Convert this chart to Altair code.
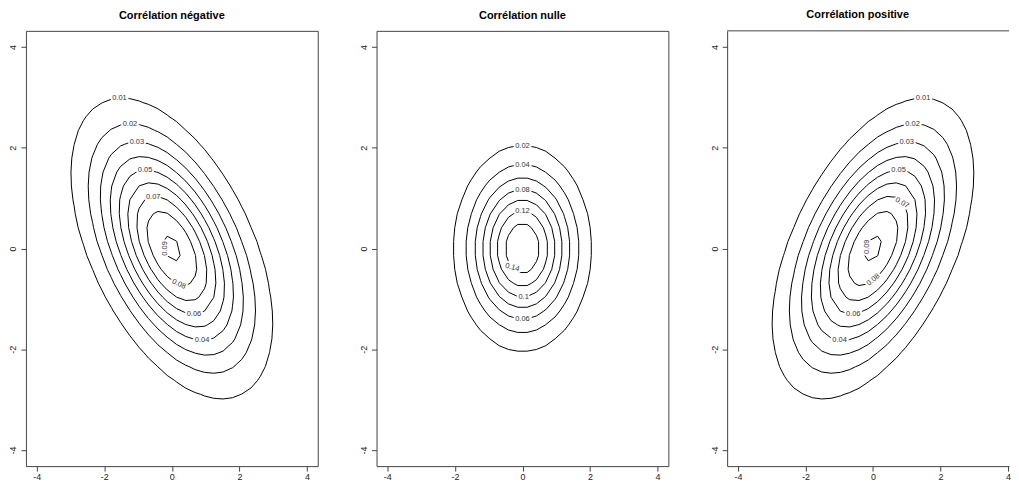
import altair as alt
import numpy as np
import pandas as pd

# ---------------- values ----------------
panel_titles = ["Corrélation négative", "Corrélation nulle", "Corrélation positive"]
# bivariate normal parameters of each panel (variance x, variance y, covariance)
panel_var_x = [2.0, 1.0, 2.0]
panel_var_y = [2.0, 1.0, 2.0]
panel_cov_xy = [-1.0, 0.0, 1.0]
# contour levels drawn in each panel
panel_levels = [
    [0.01, 0.02, 0.03, 0.04, 0.05, 0.06, 0.07, 0.08, 0.09],
    [0.02, 0.04, 0.06, 0.08, 0.10, 0.12, 0.14],
    [0.01, 0.02, 0.03, 0.04, 0.05, 0.06, 0.07, 0.08, 0.09],
]
# evaluation grid of the density (as in seq(-4, 4, length = 30))
grid_min, grid_max, grid_n = -4.0, 4.0, 30
axis_ticks = [-4, -2, 0, 2, 4]
axis_domain = [-4.32, 4.32]
# the right-hand panel is cut by the picture's right edge
last_panel_xmax = 4.03

# contour labels (panel index, text, approximate x, approximate y, angle)
label_panel = [0, 0, 0, 0, 0, 0, 0, 0, 0,
               1, 1, 1, 1, 1, 1, 1,
               2, 2, 2, 2, 2, 2, 2, 2, 2]
label_text = ["0.01", "0.02", "0.03", "0.05", "0.07", "0.09", "0.08", "0.06", "0.04",
              "0.02", "0.04", "0.08", "0.12", "0.14", "0.1", "0.06",
              "0.01", "0.02", "0.03", "0.05", "0.07", "0.09", "0.08", "0.06", "0.04"]
label_level = [0.01, 0.02, 0.03, 0.05, 0.07, 0.09, 0.08, 0.06, 0.04,
               0.02, 0.04, 0.08, 0.12, 0.14, 0.10, 0.06,
               0.01, 0.02, 0.03, 0.05, 0.07, 0.09, 0.08, 0.06, 0.04]
label_x = [-1.53, -1.24, -1.03, -0.80, -0.53, -0.08, 0.21, 0.65, 0.91,
           0.0, 0.0, 0.0, 0.0, -0.19, 0.04, 0.0,
           1.49, 1.19, 1.01, 0.76, 0.69, -0.05, 0.0, -0.60, -0.99]
label_y = [2.95, 2.43, 2.04, 1.50, 0.93, 0.02, -0.66, -1.26, -1.79,
           2.0, 1.61, 1.17, 0.75, -0.33, -0.96, -1.40,
           2.93, 2.39, 2.06, 1.50, 0.83, 0.02, -0.62, -1.26, -1.79]
label_angle = [0, 0, 0, 0, 0, 270, 25, 0, 0,
               0, 0, 0, 0, 15, 0, 0,
               0, 0, 0, 0, 30, 270, 320, 0, 0]

FONT = "Liberation Sans"
FRAME = "#444444"


def density_grid(vx, vy, cxy, g):
    X, Y = np.meshgrid(g, g)
    det = vx * vy - cxy ** 2
    q = (vy * X ** 2 - 2 * cxy * X * Y + vx * Y ** 2) / det
    return np.exp(-q / 2) / (2 * np.pi * np.sqrt(det))


def contour_segments(g, Z, level):
    segs = []
    n = len(g)
    for j in range(n - 1):
        for i in range(n - 1):
            v = [Z[j, i], Z[j, i + 1], Z[j + 1, i + 1], Z[j + 1, i]]
            p = [(g[i], g[j]), (g[i + 1], g[j]), (g[i + 1], g[j + 1]), (g[i], g[j + 1])]
            ins = [vv >= level for vv in v]
            pts = []
            for k in range(4):
                a, b = k, (k + 1) % 4
                if ins[a] != ins[b]:
                    t = (level - v[a]) / (v[b] - v[a])
                    pts.append((p[a][0] + t * (p[b][0] - p[a][0]),
                                p[a][1] + t * (p[b][1] - p[a][1])))
            if len(pts) == 2:
                segs.append((pts[0], pts[1]))
            elif len(pts) == 4:
                segs.append((pts[0], pts[1]))
                segs.append((pts[2], pts[3]))
    return segs


g = np.linspace(grid_min, grid_max, grid_n)
W, H = 293, 437
px_per_unit_x = W / (axis_domain[1] - axis_domain[0])
px_per_unit_y = H / (axis_domain[1] - axis_domain[0])

panels = []
for pi in range(3):
    last = pi == 2
    xdom = [axis_domain[0], last_panel_xmax] if last else axis_domain
    width = int(round((xdom[1] - xdom[0]) * px_per_unit_x))
    xscale = alt.Scale(domain=xdom, nice=False, zero=False)
    yscale = alt.Scale(domain=axis_domain, nice=False, zero=False)
    xaxis = alt.Axis(values=axis_ticks, labelExpr="'' + datum.value", title=None,
                     tickSize=5, labelPadding=1, grid=False, domain=last,
                     domainColor=FRAME)
    yaxis = alt.Axis(values=axis_ticks, labelExpr="'' + datum.value", title=None,
                     tickSize=5, labelPadding=3, labelAngle=270, grid=False,
                     domain=last, domainColor=FRAME,
                     labelAlign="center", labelBaseline="bottom")

    Z = density_grid(panel_var_x[pi], panel_var_y[pi], panel_cov_xy[pi], g)
    rows = []
    seg_by_level = {}
    for lev in panel_levels[pi]:
        segs = contour_segments(g, Z, lev)
        seg_by_level[round(lev, 3)] = segs
        for (a, b) in segs:
            rows.append({"x": a[0], "y": a[1], "x2": b[0], "y2": b[1], "level": lev})
    seg_df = pd.DataFrame(rows)

    # labels: snap the read position onto the contour line of its level
    lab_rows = []
    for k in range(len(label_text)):
        if label_panel[k] != pi:
            continue
        segs = seg_by_level[round(label_level[k], 3)]
        best, bd = (label_x[k], label_y[k]), 1e9
        for (a, b) in segs:
            for t in np.linspace(0, 1, 9):
                qx = a[0] + t * (b[0] - a[0])
                qy = a[1] + t * (b[1] - a[1])
                d = ((qx - label_x[k]) * px_per_unit_x) ** 2 + \
                    ((qy - label_y[k]) * px_per_unit_y) ** 2
                if d < bd:
                    bd, best = d, (qx, qy)
        lab_rows.append({"x": best[0], "y": best[1], "text": label_text[k],
                         "angle": label_angle[k]})
    lab_df = pd.DataFrame(lab_rows)

    lines = alt.Chart(seg_df).mark_rule(color="#000000", strokeWidth=1).encode(
        x=alt.X("x:Q", scale=xscale, axis=xaxis),
        y=alt.Y("y:Q", scale=yscale, axis=yaxis),
        x2="x2:Q", y2="y2:Q",
    )
    halo = alt.Chart(lab_df).mark_text(
        font=FONT, fontSize=7.5, fill="white", stroke="white", strokeWidth=4,
        baseline="middle", align="center",
    ).encode(x=alt.X("x:Q", scale=xscale), y=alt.Y("y:Q", scale=yscale),
             text="text:N", angle=alt.Angle("angle:Q", scale=None))
    labels = alt.Chart(lab_df).mark_text(
        font=FONT, fontSize=7.5, color="#333333", baseline="middle", align="center",
    ).encode(x=alt.X("x:Q", scale=xscale), y=alt.Y("y:Q", scale=yscale),
             text="text:N", angle=alt.Angle("angle:Q", scale=None))

    layers = [lines, halo, labels]
    if last:
        # top edge of the frame (the right edge lies outside the picture)
        frame_df = pd.DataFrame({"x": [xdom[0]], "x2": [xdom[1]], "y": [axis_domain[1]]})
        top_frame = alt.Chart(frame_df).mark_rule(color=FRAME, strokeWidth=1).encode(
            x=alt.X("x:Q", scale=xscale), x2="x2:Q",
            y=alt.Y("y:Q", scale=yscale),
        )
        layers.append(top_frame)

    panel = alt.layer(*layers).properties(
        width=width, height=H,
        title=alt.TitleParams(panel_titles[pi], font=FONT, fontSize=11,
                              fontWeight="bold", anchor="start" if last else "middle",
                              offset=10, color="#000000",
                              dx=(W / 2 - 50) if last else 0),
    )
    if last:
        panel = panel.properties(view=alt.ViewBackground(stroke="transparent"))
    panels.append(panel)

chart = alt.hconcat(*panels, spacing=40).properties(
    padding={"left": 0, "top": 0, "right": 0, "bottom": 0},
    background="white",
).configure_view(
    stroke=FRAME, strokeWidth=1
).configure_axis(
    labelFont=FONT, labelFontSize=9, labelColor="#222222",
    tickColor=FRAME, grid=False,
)

chart.save("out.html", embed_options={"renderer": "svg", "actions": False})
